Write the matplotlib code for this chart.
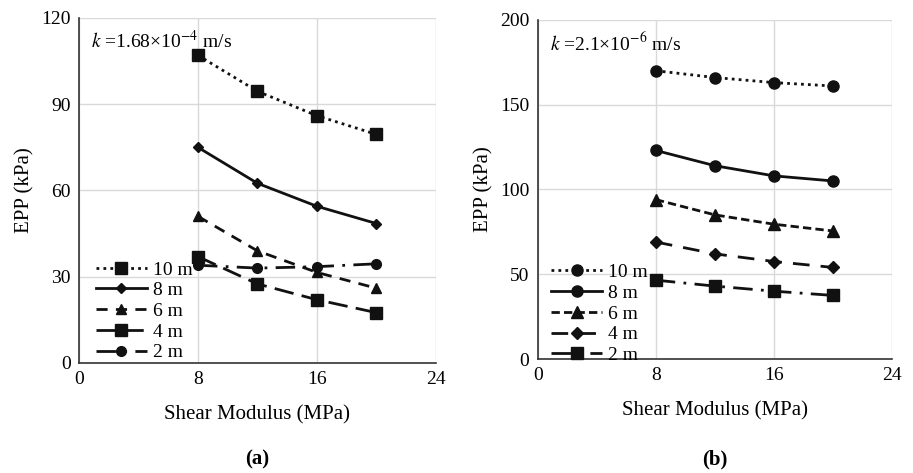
import matplotlib
matplotlib.use("Agg")
import matplotlib.pyplot as plt

plt.rcParams['font.family'] = ['Liberation Serif', 'DejaVu Serif']
plt.rcParams['mathtext.fontset'] = 'stix'

shear = [8, 12, 16, 20]
labels = ['10 m', '8 m', '6 m', '4 m', '2 m']

epp_a = {
    '10 m': [107, 94.5, 86, 79.5],
    '8 m': [75, 62.5, 54.5, 48.5],
    '6 m': [51, 39, 31.5, 26],
    '4 m': [37, 27.5, 22, 17.5],
    '2 m': [34, 33, 33.5, 34.5],
}
epp_b = {
    '10 m': [170, 166, 163, 161],
    '8 m': [123, 114, 108, 105],
    '6 m': [94, 85, 79.5, 75.5],
    '4 m': [69, 62, 57.5, 54],
    '2 m': [46.5, 43, 40, 37.5],
}

style_a = {
    '10 m': dict(ls=(0, (1, 1.5)), marker='s', ms=8),
    '8 m': dict(ls='-', marker='D', ms=5),
    '6 m': dict(ls=(0, (4, 3)), marker='^', ms=7),
    '4 m': dict(ls=(0, (7, 3)), marker='s', ms=8),
    '2 m': dict(ls=(0, (7, 3, 1, 3)), marker='o', ms=7),
}
style_b = {
    '10 m': dict(ls=(0, (1, 1.5)), marker='o', ms=8),
    '8 m': dict(ls='-', marker='o', ms=8),
    '6 m': dict(ls=(0, (3, 1.5)), marker='^', ms=8),
    '4 m': dict(ls=(0, (6, 4)), marker='D', ms=6),
    '2 m': dict(ls=(0, (7, 3, 1, 3)), marker='s', ms=8),
}

fig = plt.figure(figsize=(9.13, 4.73), dpi=100)
ax_a = fig.add_axes([0.0865, 0.2326, 0.391, 0.7294])
ax_b = fig.add_axes([0.589, 0.241, 0.388, 0.717])

def setup(ax, data, styles, ymax, ystep, ktext, panel, anchor):
    for lab in labels:
        st = styles[lab]
        ax.plot(shear, data[lab], color='#111111', lw=2.0, linestyle=st['ls'],
                marker=st['marker'], ms=st['ms'], label=lab)
    ax.set_xlim(0, 24)
    ax.set_ylim(0, ymax)
    ax.set_xticks([0, 8, 16, 24])
    ax.set_yticks(list(range(0, ymax + 1, ystep)))
    ax.grid(True, color='#d9d9d9', lw=1)
    ax.set_axisbelow(True)
    for s in ['top', 'right']:
        ax.spines[s].set_visible(False)
    for s in ['left', 'bottom']:
        ax.spines[s].set_color('#333333')
        ax.spines[s].set_linewidth(1.2)
    ax.tick_params(length=0, labelsize=14, pad=6)
    ax.set_xlabel('Shear Modulus (MPa)', fontsize=15, labelpad=12)
    ax.set_ylabel('EPP (kPa)', fontsize=15, labelpad=5)
    ax.text(0.035, 0.965, ktext, transform=ax.transAxes, fontsize=14,
            va='top', ha='left')
    ax.legend(loc='lower left', bbox_to_anchor=anchor, frameon=False,
              fontsize=14, handlelength=2.6, labelspacing=0.16,
              handletextpad=0.3, borderpad=0.2)
    bb = ax.get_position()
    fig.text((bb.x0 + bb.x1) / 2, 0.028, panel, fontsize=15,
             fontweight='bold', ha='center', va='center')

setup(ax_a, epp_a, style_a, 120, 30, r'$k$ =1.68×10$^{-4}$ m/s', '(a)', (0.01, -0.035))
setup(ax_b, epp_b, style_b, 200, 50, r'$k$ =2.1×10$^{-6}$ m/s', '(b)', (0.0, -0.055))

fig.savefig('out.png', dpi=100)
